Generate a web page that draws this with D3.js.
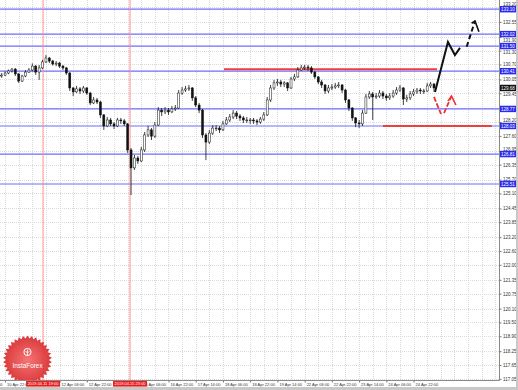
<!DOCTYPE html>
<html>
<head>
<meta charset="utf-8">
<script src="https://cdn.jsdelivr.net/npm/d3@7/dist/d3.min.js"></script>
<style>
  body { margin: 0; background: #fff; }
  svg { display: block; font-family: "Liberation Sans", Arial, sans-serif; }
</style>
</head>
<body>
<svg id="chart"></svg>
<script>
// 2-hour bars, hour offset of bar i is 1 + 2*i; open = previous close
const firstOpen = 130.20;
const closes = [
  130.24,130.33,130.42,130.50,130.29,129.98,130.20,130.37,130.46,130.63,
  130.37,130.55,130.81,130.98,130.85,130.72,130.76,130.63,130.55,130.33,
  129.68,129.51,129.64,129.55,129.68,129.46,129.03,129.16,129.07,128.51,
  128.03,128.29,128.12,128.03,128.29,128.25,128.12,126.99,126.21,126.64,
  126.51,126.99,127.64,127.86,127.59,128.07,128.72,128.64,128.72,128.64,
  128.77,128.81,129.46,129.59,129.64,129.68,129.25,128.94,128.72,127.64,
  127.33,127.72,127.94,127.94,127.86,128.12,128.29,128.42,128.59,128.46,
  128.38,128.29,128.29,128.29,128.25,128.20,128.33,128.51,129.16,129.68,
  129.90,129.94,129.85,129.90,129.68,130.07,130.16,130.46,130.55,130.59,
  130.55,130.37,130.16,129.94,129.81,129.55,129.68,129.72,129.77,129.81,
  129.59,129.16,128.81,128.38,128.16,128.12,128.59,129.29,129.42,129.29,
  129.33,129.46,129.33,129.25,129.33,129.46,129.59,129.68,129.20,129.25,
  129.42,129.51,129.59,129.55,129.55,129.77,129.85,129.68
];
const highs = [
  130.33,130.40,130.48,130.55,130.55,130.33,130.25,130.45,130.55,130.75,
  130.68,130.68,130.90,131.11,131.03,130.90,130.85,130.81,130.68,130.59,
  130.37,129.72,129.77,129.72,129.77,129.72,129.51,129.29,129.25,129.12,
  128.55,128.42,128.38,128.20,128.38,128.38,128.33,128.16,127.07,126.77,
  126.73,127.12,127.77,128.03,127.94,128.20,128.85,128.81,128.85,128.81,
  128.90,128.94,129.59,129.72,129.77,129.81,129.72,129.33,129.03,128.77,
  127.72,127.86,128.07,128.07,128.03,128.25,128.42,128.55,128.72,128.68,
  128.55,128.46,128.42,128.38,128.38,128.33,128.42,128.64,129.29,129.81,
  130.03,130.07,130.03,129.98,129.94,130.16,130.29,130.59,130.68,130.68,
  130.68,130.63,130.42,130.20,130.03,129.85,129.81,129.85,129.90,129.94,
  129.85,129.64,129.20,128.85,128.42,128.29,128.72,129.42,129.55,129.51,
  129.46,129.59,129.55,129.42,129.46,129.59,129.72,129.81,129.72,129.38,
  129.55,129.64,129.68,129.68,129.64,129.90,129.94,129.90
];
const lows = [
  130.12,130.20,130.28,130.35,130.20,129.90,129.94,130.15,130.33,130.40,
  130.25,130.03,130.50,130.76,130.76,130.65,130.63,130.55,130.46,130.25,
  129.55,129.33,129.46,129.42,129.46,129.38,128.94,128.98,128.98,128.38,
  127.86,127.98,128.03,127.90,127.98,128.12,128.03,126.86,125.03,126.12,
  126.38,126.46,126.90,127.55,127.42,127.51,128.03,128.46,128.55,128.51,
  128.59,128.68,128.77,129.38,129.51,129.55,129.12,128.85,128.59,127.51,
  126.55,127.25,127.64,127.81,127.72,127.81,128.07,128.20,128.33,128.33,
  128.25,128.16,128.16,128.12,128.12,128.07,128.12,128.25,128.46,129.07,
  129.59,129.77,129.72,129.72,129.55,129.64,129.98,130.12,130.42,130.46,
  130.42,130.29,130.07,129.85,129.68,129.42,129.46,129.59,129.64,129.68,
  129.46,129.03,128.68,128.25,127.98,127.94,128.03,128.55,129.20,128.29,
  129.20,129.25,129.20,129.12,129.16,129.25,129.38,129.51,128.94,129.07,
  129.16,129.33,129.42,129.42,129.42,129.51,129.68,129.51
];

// price axis labels
const yTicks = [117.05,117.65,118.25,118.90,119.50,120.10,120.75,121.35,122.00,122.60,
  123.20,123.85,124.45,125.10,125.70,126.35,126.95,127.60,128.20,128.80,129.45,
  130.05,130.70,131.30,131.90,132.55,133.20];

// time axis labels, one every 16 hours
const xTickHours = [-13,3,19,35,51,67,83,99,115,131,147,163,179,195,211,227,243];
const xTickLabels = ['10 Apr 06:00','10 Apr 22:00','11 Apr 14:00','12 Apr 06:00','12 Apr 22:00',
  '15 Apr 14:00','16 Apr 06:00','16 Apr 22:00','17 Apr 14:00','18 Apr 06:00','18 Apr 22:00',
  '19 Apr 14:00','22 Apr 06:00','22 Apr 22:00','23 Apr 14:00','24 Apr 06:00','24 Apr 22:00'];

// fractal levels
const blueLevels = [133.10, 132.02, 131.50, 130.41, 128.77, 128.03, 126.81, 125.51];
const redLevels = [130.49, 128.03];
const redLevelFrom = [131.6, 225.0];
const redLevelTo = [256.8, 289.0];

// marked bars
const vLineHours = [25.3, 76.4];
const vLineLabels = ['2019.04.11 19:00', '2019.04.15 23:00'];

// expected paths [hour, price]
const blackSolid = [[255.6,129.51],[263.2,131.68],[267.3,131.11],[270.3,131.42]];
const blackDashed = [[274.2,131.47],[279.1,132.59]];
const blackHead = [[277.1,132.49],[279.1,132.59],[281.4,132.12]];
const redLeg1 = [[255.0,129.29],[259.1,128.55]];
const redLeg2 = [[260.9,128.59],[265.3,129.33]];
const redHead = [[263.2,129.11],[265.3,129.33],[267.9,128.94]];

const W = 518, H = 390;
const plotW = 499, plotH = 380;
const tagH = 6.4, tagW = 34;

const svg = d3.select('#chart').attr('width', W).attr('height', H);

const xScale = d3.scaleLinear().domain([0, 293.2]).range([0, plotW]);
const yScale = d3.scaleLinear().domain([117.0, 133.5]).range([plotH, 0]);

const defs = svg.append('defs');
defs.append('clipPath').attr('id', 'plot-clip')
  .append('rect').attr('width', plotW).attr('height', plotH);

const plot = svg.append('g').attr('clip-path', 'url(#plot-clip)');

// dotted grid
const vGrid = d3.range(3, 293, 8);
plot.append('g').selectAll('line').data(vGrid).join('line')
  .attr('x1', d => Math.round(xScale(d)) + 0.5).attr('x2', d => Math.round(xScale(d)) + 0.5)
  .attr('y1', 0).attr('y2', plotH)
  .attr('stroke', '#dadada').attr('stroke-dasharray', '1,1');
plot.append('g').selectAll('line').data(yTicks).join('line')
  .attr('x1', 0).attr('x2', plotW)
  .attr('y1', d => Math.round(yScale(d)) + 0.5).attr('y2', d => Math.round(yScale(d)) + 0.5)
  .attr('stroke', '#dadada').attr('stroke-dasharray', '1,1');

// blue levels
plot.append('g').selectAll('line').data(blueLevels).join('line')
  .attr('x1', 0).attr('x2', plotW)
  .attr('y1', d => yScale(d)).attr('y2', d => yScale(d))
  .attr('stroke', '#6e6eff').attr('stroke-width', 1.2);

// red vertical markers
plot.append('g').selectAll('line').data(vLineHours).join('line')
  .attr('x1', d => xScale(d)).attr('x2', d => xScale(d))
  .attr('y1', 0).attr('y2', plotH)
  .attr('stroke', '#ff8c8c').attr('stroke-width', 1);

// red horizontal levels
plot.append('g').selectAll('line').data(redLevels).join('line')
  .attr('x1', (d, i) => xScale(redLevelFrom[i])).attr('x2', (d, i) => xScale(redLevelTo[i]))
  .attr('y1', d => yScale(d)).attr('y2', d => yScale(d))
  .attr('stroke', '#ee3f3f').attr('stroke-width', 2);

// candles
const bars = closes.map((c, i) => ({
  t: 1 + 2 * i,
  open: i === 0 ? firstOpen : closes[i - 1],
  close: c, high: highs[i], low: lows[i]
}));
const candle = plot.append('g').selectAll('g').data(bars).join('g');
candle.append('line')
  .attr('x1', d => xScale(d.t)).attr('x2', d => xScale(d.t))
  .attr('y1', d => yScale(d.high)).attr('y2', d => yScale(d.low))
  .attr('stroke', '#111').attr('stroke-width', 0.8);
candle.append('rect')
  .attr('x', d => xScale(d.t) - 1)
  .attr('width', 2)
  .attr('y', d => yScale(Math.max(d.open, d.close)))
  .attr('height', d => Math.max(0.8, Math.abs(yScale(d.open) - yScale(d.close))))
  .attr('fill', d => d.close >= d.open ? '#fff' : '#111')
  .attr('stroke', '#111').attr('stroke-width', 0.5);

// projected paths
const line = d3.line().x(d => xScale(d[0])).y(d => yScale(d[1]));
plot.append('path').attr('d', line(blackSolid)).attr('fill', 'none')
  .attr('stroke', '#111').attr('stroke-width', 2);
plot.append('path').attr('d', line(blackDashed)).attr('fill', 'none')
  .attr('stroke', '#111').attr('stroke-width', 2).attr('stroke-dasharray', '5,3');
plot.append('path').attr('d', line(blackHead)).attr('fill', 'none')
  .attr('stroke', '#111').attr('stroke-width', 1.6);
[redLeg1, redLeg2].forEach(seg => {
  plot.append('path').attr('d', line(seg)).attr('fill', 'none')
    .attr('stroke', '#f03030').attr('stroke-width', 1.8).attr('stroke-dasharray', '5,2');
});
plot.append('path').attr('d', line(redHead)).attr('fill', 'none')
  .attr('stroke', '#f03030').attr('stroke-width', 1.6);

// InstaForex badge
const grad = defs.append('radialGradient').attr('id', 'badge');
grad.append('stop').attr('offset', '0%').attr('stop-color', '#f46a6a');
grad.append('stop').attr('offset', '100%').attr('stop-color', '#d8282b');
const cx = 27.5, cy = 360, spikes = 34;
const star = d3.range(spikes * 2).map(k => {
  const r = k % 2 ? 21.5 : 24.5, a = Math.PI * k / spikes;
  return [cx + r * Math.sin(a), cy - r * Math.cos(a)];
});
const badge = plot.append('g').attr('opacity', 0.92);
badge.append('path').attr('d', d3.line().curve(d3.curveLinearClosed)(star)).attr('fill', 'url(#badge)');
badge.append('circle').attr('cx', cx).attr('cy', cy - 8).attr('r', 3.6)
  .attr('fill', 'none').attr('stroke', '#fff').attr('stroke-width', 1);
badge.append('path').attr('d', `M${cx},${cy - 10.5}V${cy - 4.5}M${cx - 2},${cy - 9}L${cx},${cy - 7}L${cx + 2},${cy - 9}`)
  .attr('fill', 'none').attr('stroke', '#fff').attr('stroke-width', 0.8);
badge.append('text').attr('x', cx).attr('y', cy + 7.5).attr('text-anchor', 'middle')
  .attr('fill', '#fff').attr('font-size', '6.4px').text('InstaForex');

// frame lines
svg.append('line').attr('x1', plotW + 0.5).attr('x2', plotW + 0.5).attr('y1', 0).attr('y2', plotH + 0.5)
  .attr('stroke', '#8a8a8a');
svg.append('line').attr('x1', 0).attr('x2', plotW + 0.5).attr('y1', plotH + 0.5).attr('y2', plotH + 0.5)
  .attr('stroke', '#8a8a8a');

// tags drawn on the price axis: blue levels and the last close
const lastClose = closes[closes.length - 1];
const tagPrices = blueLevels.concat([lastClose]);

// right price axis
const yAxis = d3.axisRight(yScale).tickValues(yTicks).tickFormat(d3.format('.2f')).tickSize(2).tickPadding(1.5);
const yAxisG = svg.append('g').attr('transform', `translate(${plotW + 0.5},0)`).call(yAxis);
yAxisG.select('.domain').remove();
yAxisG.selectAll('line').attr('stroke', '#777');
yAxisG.selectAll('text').attr('font-size', '4.5px').attr('fill', '#333').attr('font-family', 'Liberation Sans')
  .each(function(d) {
    // tags cover nearby labels; labels half under a tag are pushed to its edge
    const y = yScale(d);
    const near = tagPrices.map(p => yScale(p)).filter(ty => Math.abs(ty - y) < tagH);
    if (!near.length) return;
    const ty = near[0];
    if (Math.abs(ty - y) < 2) d3.select(this).remove();
    else d3.select(this).attr('dy', (ty + (y > ty ? 5.6 : -5.6) - y + 1.6) + 'px');
  });

// bottom time axis
const xAxis = d3.axisBottom(xScale).tickValues(xTickHours)
  .tickFormat((d, i) => xTickLabels[i]).tickSize(2).tickPadding(1);
const xAxisG = svg.append('g').attr('transform', `translate(0,${plotH + 0.5})`).call(xAxis);
xAxisG.select('.domain').remove();
xAxisG.selectAll('line').attr('stroke', '#777');
xAxisG.selectAll('text').attr('font-size', '4px').attr('fill', '#333')
  .attr('text-anchor', 'start').attr('dx', '1.5').attr('font-family', 'Liberation Sans')
  .each(function(d) {
    // labels starting under a red time tag are hidden by it
    const x = xScale(d);
    if (vLineHours.some(h => Math.abs(xScale(h) - x - 8) < tagW / 2)) d3.select(this).remove();
  });

const tag = (g, price, label, fill) => {
  const y = yScale(price);
  g.append('rect').attr('x', plotW + 1).attr('y', y - tagH / 2).attr('width', 16).attr('height', tagH).attr('fill', fill);
  g.append('text').attr('x', plotW + 2).attr('y', y + 1.6).attr('font-size', '4.5px')
    .attr('fill', '#fff').text(label);
};
const tags = svg.append('g');
blueLevels.forEach(p => tag(tags, p, d3.format('.2f')(p), '#2b2bf0'));
tag(tags, lastClose, d3.format('.2f')(lastClose), '#111');

// red time tags
const vTags = svg.append('g');
vLineHours.forEach((h, i) => {
  const x = xScale(h);
  vTags.append('rect').attr('x', x - tagW / 2).attr('y', plotH + 1).attr('width', tagW).attr('height', 5.6).attr('fill', '#ee1c1c');
  vTags.append('text').attr('x', x).attr('y', plotH + 5.3).attr('text-anchor', 'middle')
    .attr('font-size', '4px').attr('fill', '#fff').text(vLineLabels[i]);
});

// window border
svg.append('rect').attr('x', 0).attr('y', 387).attr('width', W).attr('height', 3).attr('fill', '#c8c8c8');
svg.append('rect').attr('x', 516).attr('y', 0).attr('width', 2).attr('height', H).attr('fill', '#c8c8c8');
</script>
</body>
</html>
